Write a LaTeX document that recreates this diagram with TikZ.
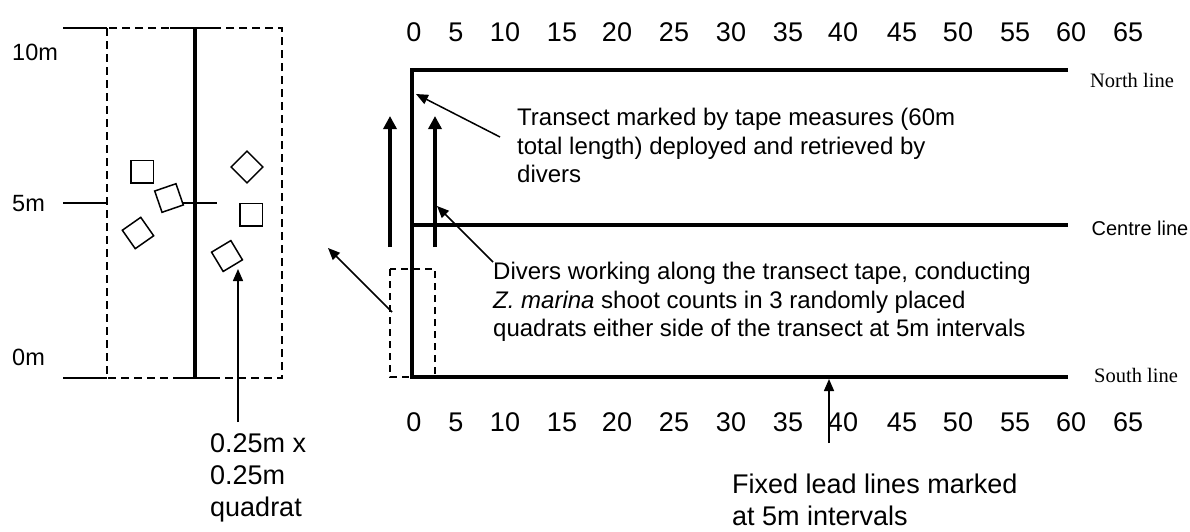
\documentclass[tikz,border=0pt]{standalone}
\usepackage{fontspec}
\setmainfont{Liberation Sans}
\newfontfamily\serifL{Liberation Serif}
\usetikzlibrary{arrows.meta}
\begin{document}
\begin{tikzpicture}[x=1pt,y=-1pt,
  thickln/.style={line width=3.6pt},
  thinln/.style={line width=1.5pt},
  dashln/.style={line width=1.5pt, dash pattern=on 8pt off 5pt},
  bigarrow/.style={line width=3.6pt, -{Triangle[length=13pt,width=13pt]}},
  smallarrow/.style={line width=1.5pt, -{Triangle[length=12pt,width=10pt]}},
  quadbox/.style={draw, line width=1.5pt, minimum size=22.5pt, inner sep=0pt, outer sep=0pt},
  scalenum/.style={font=\fontsize{27}{30}\selectfont, inner sep=0pt},
  bodytext/.style={font=\fontsize{24}{28.5}\selectfont, align=left, inner sep=0pt},
  bigtext/.style={font=\fontsize{27}{32}\selectfont, align=left, inner sep=0pt},
  sidelabel/.style={font=\fontsize{23.5}{25}\selectfont, inner sep=0pt, anchor=west},
  linelabel/.style={font=\serifL\fontsize{20.5}{22}\selectfont, inner sep=0pt},
]
\useasboundingbox (0,0) rectangle (1190,531);

% ---------------- left panel ----------------
\draw[dashln] (107,28) rectangle (282,378);
\draw[thinln] (63,28) -- (107,28);
\draw[thinln] (170,28) -- (217,28);
\draw[thinln] (63,203) -- (107,203);
\draw[thinln] (183,203) -- (217,203);
\draw[thinln] (63,378) -- (107,378);
\draw[thinln] (173,378) -- (217,378);
\draw[thickln] (195,28) -- (195,378);

\node[sidelabel] (l10) at (12,52) {10m};
\node[sidelabel] (l5) at (12,204) {5m};
\node[sidelabel] (l0) at (12,357) {0m};

\node[quadbox] (s1) at (142,171.5) {};
\node[quadbox, rotate=19] (s2) at (169,198) {};
\node[quadbox, rotate=35] (s3) at (138,233) {};
\node[quadbox, rotate=45] (s4) at (247,167) {};
\node[quadbox] (s5) at (251,214.5) {};
\node[quadbox, rotate=31] (s6) at (227,256) {};

\node[bigtext, anchor=north west] (qt) at (210,433) {0.25m x\\0.25m\\quadrat};
\coordinate (qa) at (238,422);
\coordinate (qb) at (238,269);
\draw[smallarrow] (qa) -- (qb);

% ---------------- right panel ----------------
\foreach \n/\x in {0/414,5/456,10/505,15/562,20/617,25/674,30/731,35/788,40/843,45/902,50/958,55/1015,60/1071,65/1128}{
  \node[scalenum] (top\n) at (\x,32) {\n};
  \node[scalenum] (bot\n) at (\x,422.5) {\n};
}

\coordinate (nw) at (412,70);
\coordinate (ne) at (1068,70);
\coordinate (sw) at (412,377);
\coordinate (se) at (1068,377);
\coordinate (cw) at (412,225);
\coordinate (ce) at (1068,225);
\draw[thickln, line join=miter] (ne) -- (nw) -- (sw) -- (se);
\draw[thickln] (cw) -- (ce);

\node[linelabel] (north) at (1132,80) {North line};
\node[font=\fontsize{20}{22}\selectfont, inner sep=0pt] (centre) at (1140,228) {Centre line};
\node[linelabel] (south) at (1136,375) {South line};

% divers' quadrat strip
\draw[line width=1.5pt, dash pattern=on 7pt off 5pt] (390,269) rectangle (435,377);
\coordinate (v1a) at (390,247);
\coordinate (v1b) at (390,116);
\coordinate (v2a) at (435,247);
\coordinate (v2b) at (435,116);
\draw[bigarrow] (v1a) -- (v1b);
\draw[bigarrow] (v2a) -- (v2b);

\coordinate (ba) at (392,312);
\coordinate (bb) at (328,248);
\draw[smallarrow] (ba) -- (bb);

% texts
\node[bodytext, anchor=north west] (tt) at (517,108)
  {Transect marked by tape measures (60m\\total length) deployed and retrieved by\\divers};
\coordinate (ta) at (500,137);
\coordinate (tb) at (416,94);
\draw[smallarrow] (ta) -- (tb);

\node[bodytext, anchor=north west] (dt) at (493,262)
  {Divers working along the transect tape, conducting\\\textit{Z. marina} shoot counts in 3 randomly placed\\quadrats either side of the transect at 5m intervals};
\coordinate (db) at (437,206);
\draw[smallarrow] (dt.north west) -- (db);

\node[bigtext, anchor=north west] (ft) at (732,474)
  {Fixed lead lines marked\\at 5m intervals};
\coordinate (fa) at (829,443);
\coordinate (fb) at (829,379);
\draw[smallarrow] (fa) -- (fb);
\end{tikzpicture}
\end{document}
